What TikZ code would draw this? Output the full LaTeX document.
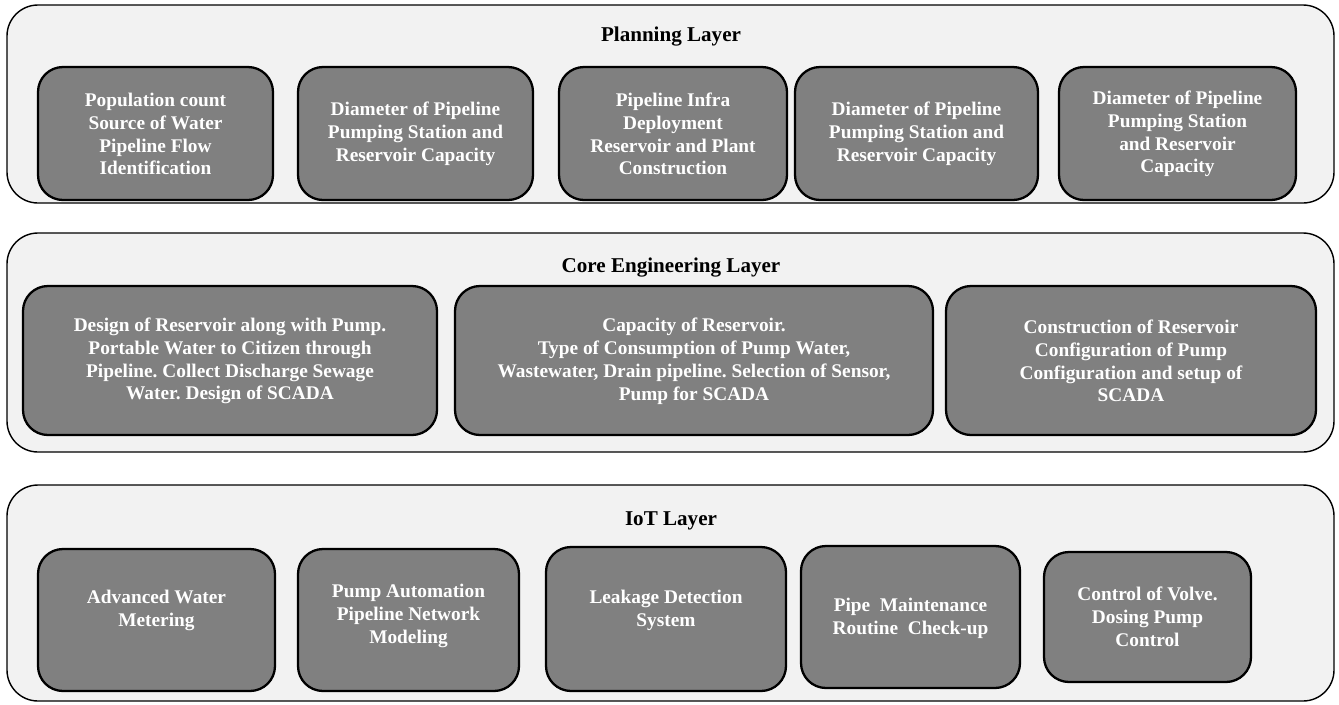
\documentclass[tikz,border=0pt]{standalone}
\usepackage{fontspec}
\setmainfont{Liberation Serif}
\frenchspacing
\definecolor{layerfill}{HTML}{F2F2F2}
\definecolor{blockfill}{HTML}{808080}
\begin{document}
\begin{tikzpicture}[x=0.02cm,y=-0.02cm,
      layer/.style={draw,line width=0.8pt,fill=layerfill,rounded corners=0.62cm},
      block/.style={draw,line width=1.3pt,fill=blockfill,rounded corners=0.5cm},
      blocktext/.style={text=white,align=center,font=\fontsize{11}{13}\selectfont\bfseries},
      layertitle/.style={font=\fontsize{12}{14}\selectfont\bfseries}]
      \useasboundingbox (0,0) rectangle (1339,704);
      % planning layer
      \path[layer] (7,5) rectangle (1334,203);
      \path (671,37) node[layertitle] (plan) {Planning Layer};
      \path[block] (38,67) rectangle (273,200);
      \path (155.5,134) node[blocktext] (plana) {Population count\\Source of Water\\Pipeline Flow\\Identification};
      \path[block] (298,67) rectangle (533,200);
      \path (415.5,134) node[blocktext] (planb) {Diameter of Pipeline\\Pumping Station and\\Reservoir Capacity};
      \path[block] (559,67) rectangle (787,200);
      \path (673,134) node[blocktext] (planc) {Pipeline Infra\\Deployment\\Reservoir and Plant\\Construction};
      \path[block] (795,67) rectangle (1038,200);
      \path (916.5,134) node[blocktext] (pland) {Diameter of Pipeline\\Pumping Station and\\Reservoir Capacity};
      \path[block] (1059,67) rectangle (1296,200);
      \path (1177.5,134) node[blocktext] (plane) {Diameter of Pipeline\\Pumping Station\\and Reservoir\\Capacity};
      % core engineering layer
      \path[layer] (7,233) rectangle (1334,452);
      \path (671,268) node[layertitle] (core) {Core Engineering Layer};
      \path[block] (23,286) rectangle (437,435);
      \path (230,361) node[blocktext] (corea) {Design of Reservoir along with Pump.\\Portable Water to Citizen through\\Pipeline. Collect Discharge Sewage\\Water. Design of SCADA};
      \path[block] (455,286) rectangle (933,435);
      \path (694,361) node[blocktext] (coreb) {Capacity of Reservoir.\\Type of Consumption of Pump Water,\\Wastewater, Drain pipeline. Selection of Sensor,\\Pump for SCADA};
      \path[block] (946,286) rectangle (1316,435);
      \path (1131,361) node[blocktext] (corec) {Construction of Reservoir\\Configuration of Pump\\Configuration and setup of\\SCADA};
      % iot layer
      \path[layer] (7,485) rectangle (1334,701);
      \path (671,521) node[layertitle] (iot) {IoT Layer};
      \path[block] (38,549) rectangle (275,691);
      \path (156.5,610) node[blocktext] (iota) {Advanced Water\\Metering};
      \path[block] (298,549) rectangle (519,691);
      \path (408.5,616) node[blocktext] (iotb) {Pump Automation\\Pipeline Network\\Modeling};
      \path[block] (546,547) rectangle (786,691);
      \path (666,610) node[blocktext] (iotc) {Leakage Detection\\System};
      \path[block] (801,546) rectangle (1020,688);
      \path (910.5,618) node[blocktext] (iotd) {Pipe\ \ Maintenance\\Routine\ \ Check-up};
      \path[block] (1044,552) rectangle (1251,682);
      \path (1147.5,617) node[blocktext] (iote) {Control of Volve.\\Dosing Pump\\Control};
     \end{tikzpicture}
\end{document}
